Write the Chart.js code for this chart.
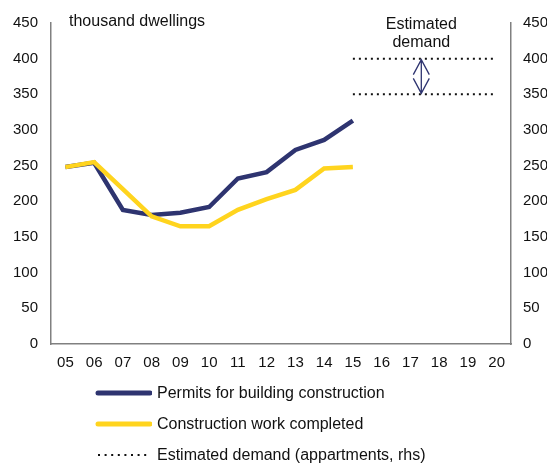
<!DOCTYPE html>
<html>
<head>
<meta charset="utf-8">
<script src="https://cdn.jsdelivr.net/npm/chart.js@4.4.1/dist/chart.umd.min.js"></script>
<style>
  body { margin: 0; background: #fff; font-family: "Liberation Sans", Arial, sans-serif; }
  #wrap { position: relative; width: 547px; height: 466px; }
  #legend { position: absolute; left: 94px; top: 377px; font-size: 16px; color: #111; }
  .row { height: 31px; display: flex; align-items: center; }
  .row svg { margin-right: 5px; }
</style>
</head>
<body>
<div id="wrap">
  <canvas id="grafico" width="547" height="466"></canvas>
  <div id="legend"></div>
</div>
<script>
// datos
var years = ["05","06","07","08","09","10","11","12","13","14","15","16","17","18","19","20"];
var permits = [248, 254, 188, 181, 184, 192, 232, 241, 272, 286, 313, null, null, null, null, null];
var completed = [248, 255, 217, 179, 165, 165, 188, 203, 216, 246, 248, null, null, null, null, null];
var demandHigh = [null, null, null, null, null, null, null, null, null, null, 400, 400, 400, 400, 400, 400];
var demandLow = [null, null, null, null, null, null, null, null, null, null, 350, 350, 350, 350, 350, 350];
var yTicks = [0, 50, 100, 150, 200, 250, 300, 350, 400, 450];

var azul = "rgb(46,52,112)";
var amarillo = "rgb(255,212,30)";
var fuente = "Liberation Sans";

// texto y flecha de la demanda estimada
var anotaciones = {
    id: "anotaciones",
    afterDatasetsDraw: function (chart) {
        var ctx = chart.ctx;
        var x = chart.scales.x;
        var y1 = chart.scales.y1;
        var px = x.getPixelForValue(12) * 0.62 + x.getPixelForValue(13) * 0.38;
        var top = y1.getPixelForValue(400) + 1;
        var bot = y1.getPixelForValue(350) - 1;
        ctx.save();
        ctx.fillStyle = "#111";
        ctx.font = "16px '" + fuente + "'";
        ctx.textBaseline = "middle";
        ctx.textAlign = "left";
        ctx.fillText("thousand dwellings", chart.chartArea.left + 18, 22);
        ctx.textAlign = "center";
        ctx.fillText("Estimated", px, 25);
        ctx.fillText("demand", px, 43);

        ctx.strokeStyle = azul;
        ctx.lineWidth = 1.3;
        ctx.beginPath();
        ctx.moveTo(px, top);
        ctx.lineTo(px, bot);
        ctx.moveTo(px - 8, top + 15);
        ctx.lineTo(px, top);
        ctx.lineTo(px + 8, top + 15);
        ctx.moveTo(px - 8, bot - 15);
        ctx.lineTo(px, bot);
        ctx.lineTo(px + 8, bot - 15);
        ctx.stroke();
        ctx.restore();
    }
};

var ctx = document.getElementById("grafico").getContext("2d");
window.myChart = new Chart(ctx, {
    type: "line",
    data: {
        labels: years,
        datasets: [{
            label: "Permits for building construction",
            data: permits,
            borderColor: azul,
            borderWidth: 4.5,
            pointRadius: 0,
            yAxisID: "y",
            order: 1
        }, {
            label: "Construction work completed",
            data: completed,
            borderColor: amarillo,
            borderWidth: 4.5,
            pointRadius: 0,
            yAxisID: "y",
            order: 0
        }, {
            label: "Estimated demand (appartments, rhs)",
            data: demandHigh,
            borderColor: "#111",
            borderWidth: 2,
            borderDash: [2, 4],
            pointRadius: 0,
            yAxisID: "y1"
        }, {
            label: "Estimated demand (appartments, rhs)",
            data: demandLow,
            borderColor: "#111",
            borderWidth: 2,
            borderDash: [2, 4],
            pointRadius: 0,
            yAxisID: "y1"
        }]
    },
    options: {
        responsive: false,
        animation: false,
        layout: { padding: { top: 23 } },
        plugins: { legend: { display: false }, tooltip: { enabled: false } },
        scales: {
            x: {
                offset: true,
                grid: { display: false, drawTicks: false },
                border: { color: "#808080", width: 1.5 },
                ticks: { color: "#111", font: { family: fuente, size: 15 }, padding: 10, maxRotation: 0, autoSkip: false },
                afterFit: function (s) { s.height = 466 - 344; }
            },
            y: {
                position: "left",
                min: 0, max: 450,
                afterBuildTicks: function (s) { s.ticks = yTicks.map(function (v) { return { value: v }; }); },
                grid: { display: false, drawTicks: false },
                border: { color: "#808080", width: 1.5 },
                ticks: { color: "#111", font: { family: fuente, size: 15 }, padding: 13 },
                afterFit: function (s) { s.width = 51; }
            },
            y1: {
                position: "right",
                min: 0, max: 450,
                afterBuildTicks: function (s) { s.ticks = yTicks.map(function (v) { return { value: v }; }); },
                grid: { display: false, drawTicks: false },
                border: { color: "#808080", width: 1.5 },
                ticks: { color: "#111", font: { family: fuente, size: 15 }, padding: 12 },
                afterFit: function (s) { s.width = 36; }
            }
        }
    },
    plugins: [anotaciones]
});

// leyenda
var items = [
    { text: "Permits for building construction", color: azul, width: 5, dash: "" },
    { text: "Construction work completed", color: amarillo, width: 5, dash: "" },
    { text: "Estimated demand (appartments, rhs)", color: "#111", width: 2, dash: "2 4.6" }
];
var leyenda = document.getElementById("legend");
items.forEach(function (it) {
    var cap = it.dash ? "butt" : "round";
    leyenda.innerHTML += '<div class="row"><svg width="58" height="8"><line x1="4" y1="4" x2="56" y2="4" stroke="' + it.color +
        '" stroke-width="' + it.width + '" stroke-linecap="' + cap + '" stroke-dasharray="' + it.dash + '"/></svg>' + it.text + '</div>';
});
</script>
</body>
</html>
